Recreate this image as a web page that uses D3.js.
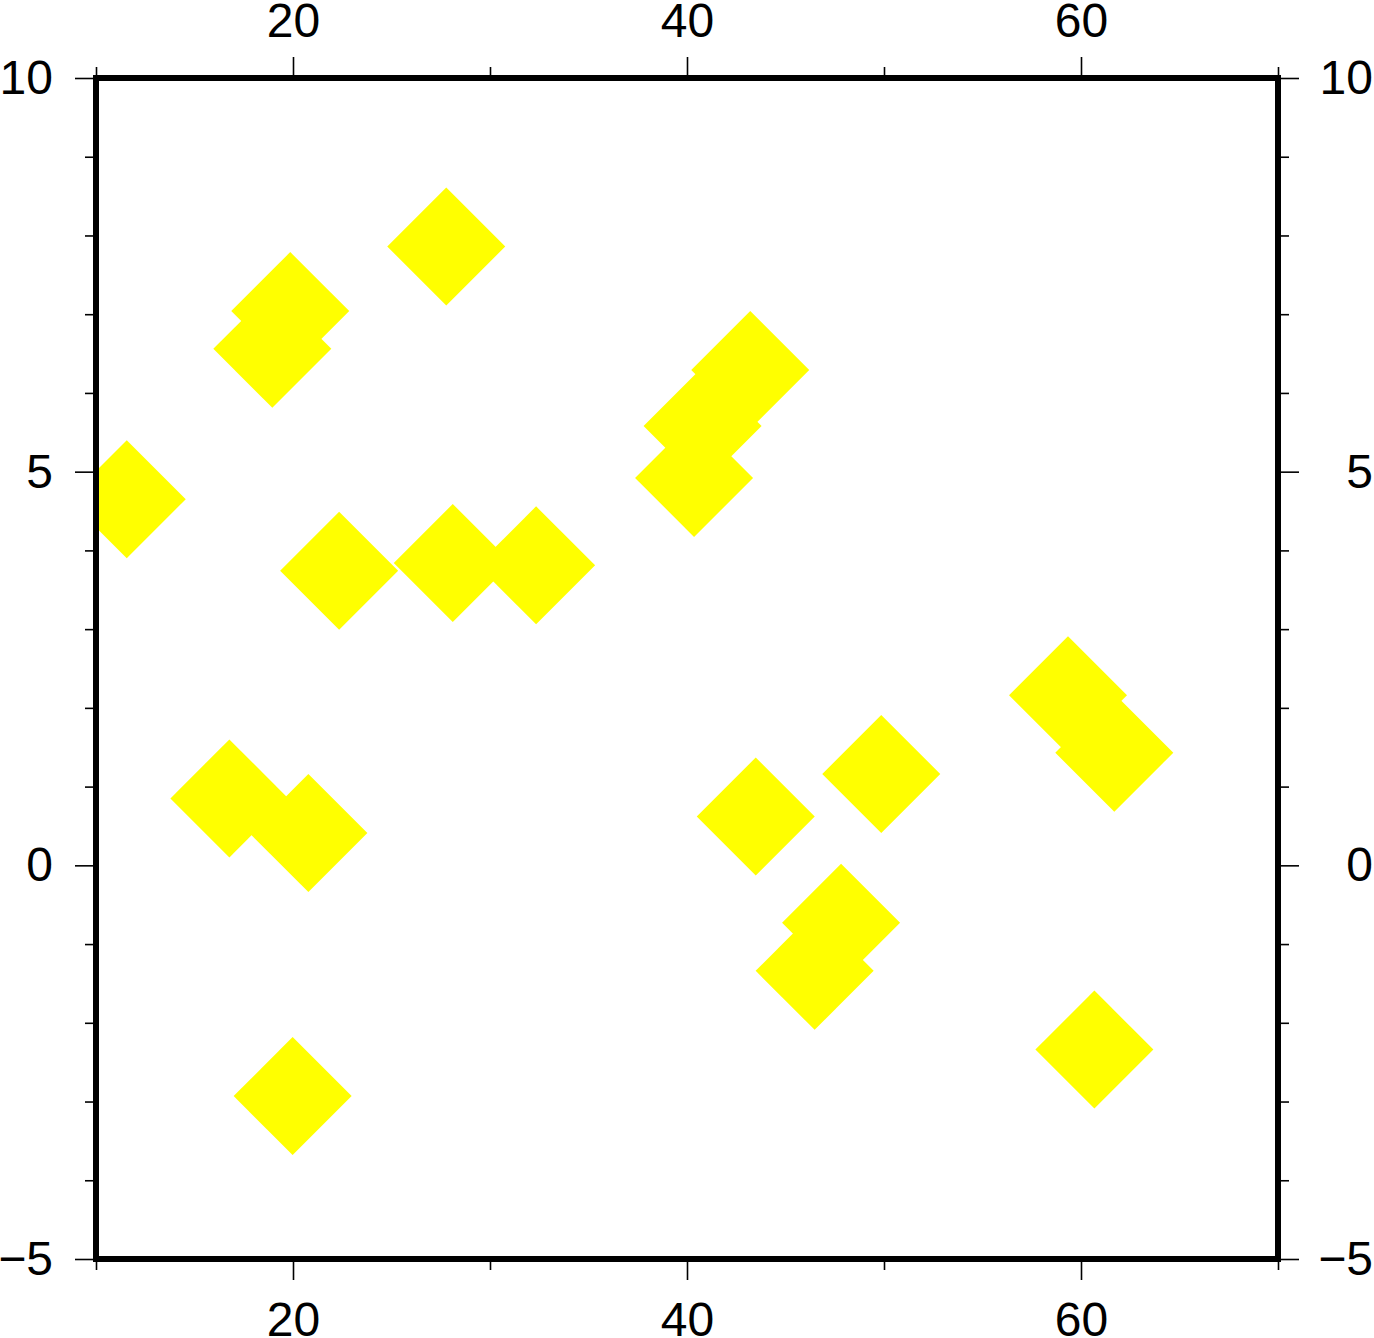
<!DOCTYPE html>
<html><head><meta charset="utf-8">
<script src="https://cdn.jsdelivr.net/npm/d3@7"></script>
<style>html,body{margin:0;padding:0;background:#fff;}svg{display:block;}</style>
</head><body>
<script>
const xValues = [11.56, 19.86, 18.95, 27.78, 22.34, 28.11, 32.34, 40.36, 40.79, 43.21, 16.77, 20.78, 19.98, 43.49, 49.86, 47.82, 46.48, 59.34, 61.69, 60.68];
const yValues = [4.65, 7.04, 6.56, 7.86, 3.74, 3.84, 3.81, 4.92, 5.58, 6.29, 0.85, 0.41, -2.93, 0.62, 1.16, -0.73, -1.34, 2.16, 1.43, -2.34];
const xMajorTicks = [20, 40, 60];
const xMinorTicks = [10, 30, 50, 70];
const yMajorTicks = [-5, 0, 5, 10];
const yMinorTicks = [-4, -3, -2, -1, 1, 2, 3, 4, 6, 7, 8, 9];

const W = 1374, H = 1338;
const L = 96, R = 1278, T = 78, B = 1259;
const x = d3.scaleLinear().domain([10, 70]).range([L, R]);
const y = d3.scaleLinear().domain([-5, 10]).range([B, T]);
const fmt = d => (d < 0 ? "\u2212" + Math.abs(d) : String(d));
const font = "'Liberation Sans', Helvetica, Arial, sans-serif";
const fs = 48;

const svg = d3.select("body").append("svg").attr("width", W).attr("height", H);
svg.append("defs").append("clipPath").attr("id", "clip")
  .append("rect").attr("x", L).attr("y", T).attr("width", R - L).attr("height", B - T);

const pts = xValues.map((v, i) => [v, yValues[i]]);
const half = 59;
const side = half * Math.SQRT2;
const sym = d3.symbol(d3.symbolSquare, side * side);
svg.append("g").attr("clip-path", "url(#clip)")
  .selectAll("path").data(pts).join("path")
  .attr("d", sym)
  .attr("transform", d => `translate(${x(d[0])},${y(d[1])}) rotate(45)`)
  .attr("fill", "#ffff00");

// axes
const majorLen = 21, minorLen = 11;
function styleAxis(g) {
  g.select(".domain").remove();
  g.selectAll(".tick line").attr("stroke", "#000").attr("stroke-width", 1.6);
  g.selectAll(".tick text").attr("fill", "#000").style("font-family", font).style("font-size", fs + "px");
}
svg.append("g").attr("transform", `translate(0,${T})`)
  .call(d3.axisTop(x).tickValues(xMajorTicks).tickSize(majorLen).tickPadding(20).tickFormat(fmt)).call(styleAxis);
svg.append("g").attr("transform", `translate(0,${T})`)
  .call(d3.axisTop(x).tickValues(xMinorTicks).tickSize(minorLen).tickFormat("")).call(styleAxis);
svg.append("g").attr("transform", `translate(0,${B})`)
  .call(d3.axisBottom(x).tickValues(xMajorTicks).tickSize(majorLen).tickPadding(22).tickFormat(fmt)).call(styleAxis);
svg.append("g").attr("transform", `translate(0,${B})`)
  .call(d3.axisBottom(x).tickValues(xMinorTicks).tickSize(minorLen).tickFormat("")).call(styleAxis);
svg.append("g").attr("transform", `translate(${L},0)`)
  .call(d3.axisLeft(y).tickValues(yMajorTicks).tickSize(majorLen).tickPadding(22).tickFormat(fmt)).call(styleAxis);
svg.append("g").attr("transform", `translate(${L},0)`)
  .call(d3.axisLeft(y).tickValues(yMinorTicks).tickSize(minorLen).tickFormat("")).call(styleAxis);
const gRight = svg.append("g").attr("transform", `translate(${R},0)`)
  .call(d3.axisRight(y).tickValues(yMajorTicks).tickSize(majorLen).tickFormat(fmt)).call(styleAxis);
gRight.selectAll(".tick text").attr("x", W - R - 1).attr("text-anchor", "end");
svg.append("g").attr("transform", `translate(${R},0)`)
  .call(d3.axisRight(y).tickValues(yMinorTicks).tickSize(minorLen).tickFormat("")).call(styleAxis);

// frame
svg.append("rect").attr("x", L).attr("y", T).attr("width", R - L).attr("height", B - T)
  .attr("fill", "none").attr("stroke", "#000").attr("stroke-width", 6);
</script>
</body></html>
